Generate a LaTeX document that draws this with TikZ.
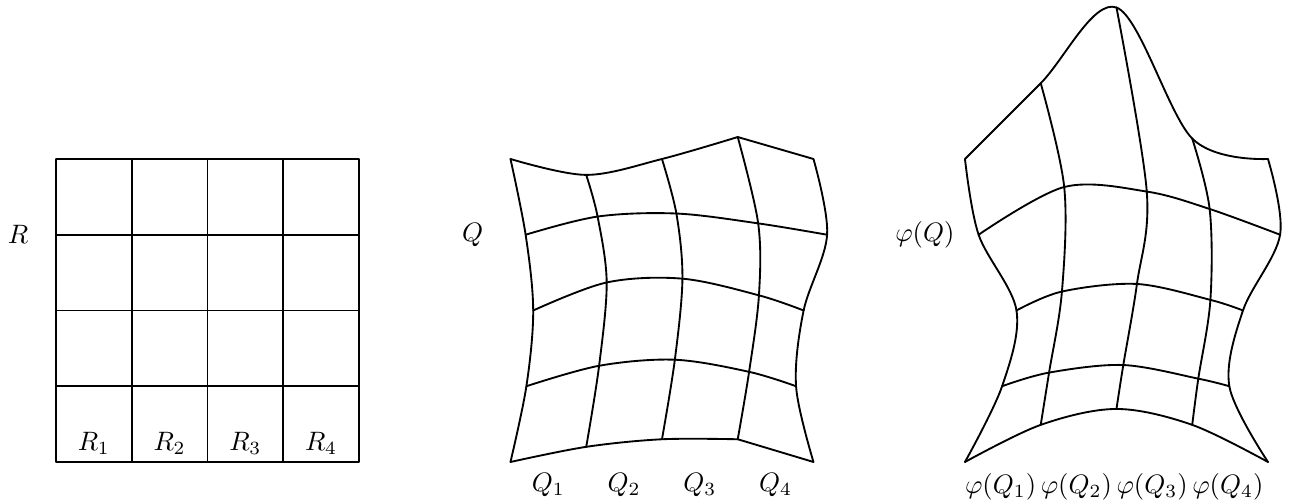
\documentclass[tikz,border=0pt]{standalone}
\usetikzlibrary{calc}

\begin{document}
\begin{tikzpicture}[
    edge/.style={line width=0.7pt, line join=round, line cap=round},
    curvy/.style={edge, smooth, tension=0.55},
    maplabel/.style={font=\normalsize, inner sep=1pt},
]

\useasboundingbox (-0.739,-0.515) rectangle (16.304,6.099);

% Square R, cut into 4x4 cells
\draw[edge] (0,0) grid (4,4);
\node[maplabel] (R) at (-0.5,3) {$R$};
\foreach \k in {1,...,4}
    \node[maplabel] (R\k) at (\k-0.5,0.25) {$R_{\k}$};

% Grid points of Q
\coordinate (q00) at (6,0);     \coordinate (q10) at (7,0.2);     \coordinate (q20) at (8,0.3);     \coordinate (q30) at (9,0.3);     \coordinate (q40) at (10,0);
\coordinate (q01) at (6.21,1);  \coordinate (q11) at (7.17,1.27); \coordinate (q21) at (8.17,1.35); \coordinate (q31) at (9.15,1.19); \coordinate (q41) at (9.77,1);
\coordinate (q02) at (6.3,2);   \coordinate (q12) at (7.27,2.37); \coordinate (q22) at (8.27,2.42); \coordinate (q32) at (9.28,2.2);  \coordinate (q42) at (9.87,2);
\coordinate (q03) at (6.2,3);   \coordinate (q13) at (7.15,3.24); \coordinate (q23) at (8.19,3.28); \coordinate (q33) at (9.27,3.15); \coordinate (q43) at (10.18,3);
\coordinate (q04) at (6,4);     \coordinate (q14) at (7,3.79);    \coordinate (q24) at (8,4);       \coordinate (q34) at (9,4.29);    \coordinate (q44) at (10,4);

% Q: columns, inner rows, then top and bottom edge
\foreach \i in {0,...,4}
    \draw[curvy] plot coordinates {(q\i0) (q\i1) (q\i2) (q\i3) (q\i4)};
\foreach \j in {1,2,3}
    \draw[curvy] plot coordinates {(q0\j) (q1\j) (q2\j) (q3\j) (q4\j)};
\draw[curvy] plot coordinates {(q00) (q10) (q20) (q30)};
\draw[edge] (q30) -- (q40);
\draw[curvy] plot coordinates {(q04) (q14) (q24) (q34)};
\draw[edge] (q34) -- (q44);

\node[maplabel] (Q) at (5.5,3) {$Q$};
\foreach \k in {1,...,4}
    \node[maplabel] (Q\k) at (\k+5.5,-0.3) {$Q_{\k}$};

% Grid points of phi(Q)
\coordinate (p00) at (12,0);     \coordinate (p10) at (13,0.49);   \coordinate (p20) at (14,0.7);    \coordinate (p30) at (15,0.49);   \coordinate (p40) at (16,0);
\coordinate (p01) at (12.49,1);  \coordinate (p11) at (13.11,1.18); \coordinate (p21) at (14.09,1.28); \coordinate (p31) at (15.08,1.1);  \coordinate (p41) at (15.49,1);
\coordinate (p02) at (12.68,2);  \coordinate (p12) at (13.28,2.25); \coordinate (p22) at (14.27,2.35); \coordinate (p32) at (15.24,2.14); \coordinate (p42) at (15.67,2);
\coordinate (p03) at (12.18,3);  \coordinate (p13) at (13.31,3.63); \coordinate (p23) at (14.4,3.57);  \coordinate (p33) at (15.23,3.34); \coordinate (p43) at (16.16,3);
\coordinate (p04) at (12,4);     \coordinate (p14) at (13,5);       \coordinate (p24) at (14,6);       \coordinate (p34) at (15,4.27);   \coordinate (p44) at (16,4);

% phi(Q): all rows and columns
\foreach \i in {0,...,4}
    \draw[curvy] plot coordinates {(p\i0) (p\i1) (p\i2) (p\i3) (p\i4)};
\foreach \j in {0,...,4}
    \draw[curvy] plot coordinates {(p0\j) (p1\j) (p2\j) (p3\j) (p4\j)};

\node[maplabel] (phiQ) at (11.47,3) {$\varphi(Q)$};
\foreach \k in {1,...,4}
    \node[maplabel] (phiQ\k) at (\k+11.47,-0.33) {$\varphi(Q_{\k})$};

\end{tikzpicture}
\end{document}
